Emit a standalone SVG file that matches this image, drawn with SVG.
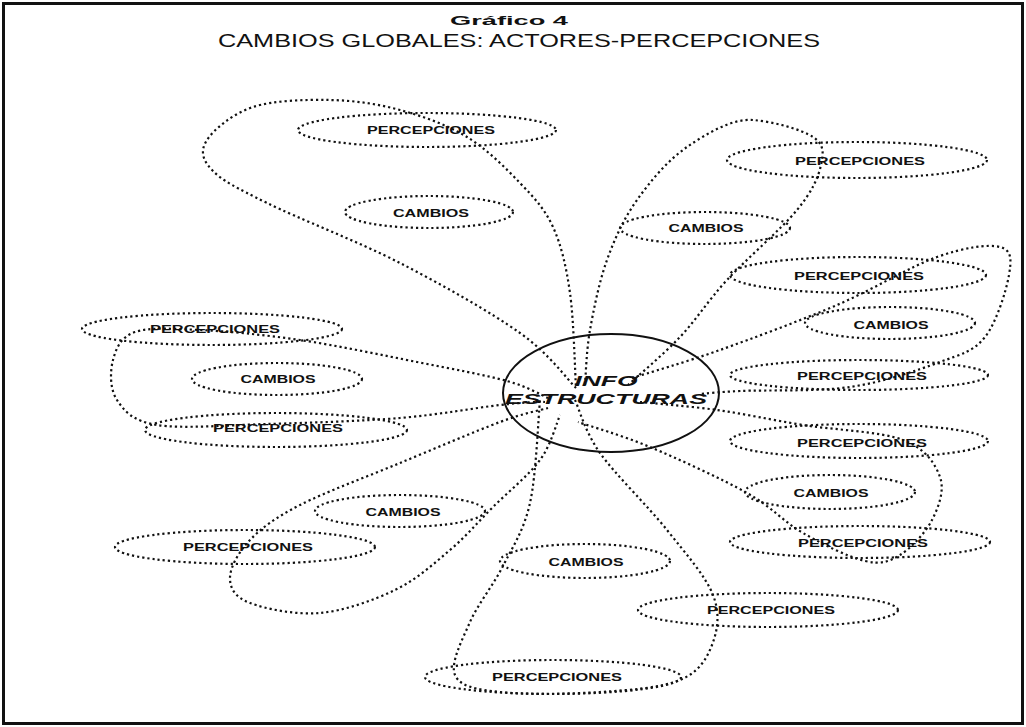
<svg xmlns="http://www.w3.org/2000/svg" width="1026" height="727" viewBox="0 0 1026 727">
<style>
.dot{fill:none;stroke:#111;stroke-width:2.2;stroke-dasharray:2.2 3}
.hub{fill:none;stroke:#111;stroke-width:2}
.lbl{font-family:"Liberation Sans",Arial,sans-serif;font-weight:bold;font-size:11px;fill:#111;text-anchor:middle}
.ttl{font-family:"Liberation Sans",Arial,sans-serif;fill:#111;text-anchor:middle}
.ctr{font-family:"Liberation Sans",Arial,sans-serif;font-weight:bold;font-style:italic;font-size:15px;fill:#111;text-anchor:middle}
</style>
<rect x="3.5" y="3.5" width="1019" height="720" fill="#fff" stroke="#111" stroke-width="3"/>
<g id="title">
<text class="ttl" x="509" y="25" font-size="13" font-weight="bold" textLength="118" lengthAdjust="spacingAndGlyphs">Gráfico 4</text>
<text class="ttl" x="519" y="47" font-size="19" textLength="602" lengthAdjust="spacingAndGlyphs">CAMBIOS GLOBALES: ACTORES-PERCEPCIONES</text>
</g>
<g id="connectors">
<path class="dot" d="M576,388 C566.7,378.8 549.3,353.8 520,333 C490.7,312.2 442.2,284.7 400,263 C357.8,241.3 298.3,218.5 267,203 C235.7,187.5 222,180.5 212,170 C202,159.5 200.2,150.5 207,140 C213.8,129.5 232.5,113.7 253,107 C273.5,100.3 305.5,99.5 330,100 C354.5,100.5 377.2,103.8 400,110 C422.8,116.2 447,124.8 467,137 C487,149.2 505.7,168 520,183 C534.3,198 544.7,208.7 553,227 C561.3,245.3 566.2,266.2 570,293 C573.8,319.8 575,372.2 576,388"/>
<path class="dot" d="M585,385 C585.8,375.8 586.3,350.8 590,330 C593.7,309.2 599.2,281.7 607,260 C614.8,238.3 623.7,218.8 637,200 C650.3,181.2 667.7,160.3 687,147 C706.3,133.7 732,118.3 753,120 C774,121.7 801.7,129.5 813,137 C824.3,144.5 823.7,152.8 821,165 C818.3,177.2 812.7,190.8 797,210 C781.3,229.2 746.5,258.8 727,280 C707.5,301.2 696.5,319.5 680,337 C663.5,354.5 636.7,377 628,385"/>
<path class="dot" d="M632,378 C646.7,373.3 685.8,362.2 720,350 C754.2,337.8 800.8,320.5 837,305 C873.2,289.5 909.8,266.7 937,257 C964.2,247.3 988,244 1000,247 C1012,250 1011.5,260 1009,275 C1006.5,290 996.5,322.5 985,337 C973.5,351.5 962.5,353.7 940,362 C917.5,370.3 883.3,382.2 850,387 C816.7,391.8 765,389.8 740,391 C715,392.2 706.7,393.5 700,394"/>
<path class="dot" d="M640,402 C652.8,403.3 689.8,406.2 717,410 C744.2,413.8 772,420 803,425 C834,430 880.2,431.3 903,440 C925.8,448.7 935.2,463.7 940,477 C944.8,490.3 938.7,507 932,520 C925.3,533 911.2,548.2 900,555 C888.8,561.8 881.2,564.7 865,561 C848.8,557.3 822.7,544.3 803,533 C783.3,521.7 772.5,507.3 747,493 C721.5,478.7 678.2,458.8 650,447 C621.8,435.2 590,426.2 578,422"/>
<path class="dot" d="M575,400 C579.2,408.8 584.7,431.3 600,453 C615.3,474.7 648.2,506.3 667,530 C685.8,553.7 705.5,575.8 713,595 C720.5,614.2 717.5,630.8 712,645 C706.5,659.2 698.7,672.2 680,680 C661.3,687.8 630,690 600,692 C570,694 524.2,694.8 500,692 C475.8,689.2 460,686.7 455,675 C450,663.3 462,640.2 470,622 C478,603.8 493,585.8 503,566 C513,546.2 523.8,530.7 530,503 C536.2,475.3 538.3,417.2 540,400"/>
<path class="dot" d="M548,408 C540,410.3 524.7,412.8 500,422 C475.3,431.2 433.3,449.2 400,463 C366.7,476.8 325,492.2 300,505 C275,517.8 261.7,527.8 250,540 C238.3,552.2 230,567.5 230,578 C230,588.5 235,597.2 250,603 C265,608.8 295.8,615.2 320,613 C344.2,610.8 373.3,600.5 395,590 C416.7,579.5 433.7,563.8 450,550 C466.3,536.2 478,522 493,507 C508,492 528.8,475.3 540,460 C551.2,444.7 556.7,422.5 560,415"/>
<path class="dot" d="M548,398 C541.2,395.2 528.8,387 507,381 C485.2,375 451.5,368.8 417,362 C382.5,355.2 336.2,345.3 300,340 C263.8,334.7 227.5,331.3 200,330 C172.5,328.7 149.5,327 135,332 C120.5,337 116,348.7 113,360 C110,371.3 109.7,389.2 117,400 C124.3,410.8 132,421 157,425 C182,429 226.5,425.2 267,424 C307.5,422.8 361.2,421.2 400,418 C438.8,414.8 475.8,407.7 500,405 C524.2,402.3 537.5,401.5 545,402"/>
</g>
<g id="center">
<ellipse class="hub" cx="611" cy="393" rx="108" ry="59"/>
<text class="ctr" x="606" y="386" textLength="63" lengthAdjust="spacingAndGlyphs">INFO</text>
<text class="ctr" x="606" y="404" textLength="202" lengthAdjust="spacingAndGlyphs">ESTRUCTURAS</text>
</g>
<g id="p1"><ellipse class="dot" cx="427" cy="130" rx="129" ry="17"/><text class="lbl" x="431" y="134" textLength="128" lengthAdjust="spacingAndGlyphs">PERCEPCIONES</text></g>
<g id="c1"><ellipse class="dot" cx="429" cy="212" rx="84" ry="16"/><text class="lbl" x="431" y="217" textLength="76" lengthAdjust="spacingAndGlyphs">CAMBIOS</text></g>
<g id="p2"><ellipse class="dot" cx="857" cy="160" rx="130" ry="18"/><text class="lbl" x="860" y="165" textLength="130" lengthAdjust="spacingAndGlyphs">PERCEPCIONES</text></g>
<g id="c2"><ellipse class="dot" cx="705" cy="228" rx="85" ry="16"/><text class="lbl" x="706" y="232" textLength="75" lengthAdjust="spacingAndGlyphs">CAMBIOS</text></g>
<g id="p3"><ellipse class="dot" cx="858" cy="275" rx="128" ry="18"/><text class="lbl" x="859" y="280" textLength="130" lengthAdjust="spacingAndGlyphs">PERCEPCIONES</text></g>
<g id="c3"><ellipse class="dot" cx="890" cy="323" rx="85" ry="16"/><text class="lbl" x="891" y="329" textLength="75" lengthAdjust="spacingAndGlyphs">CAMBIOS</text></g>
<g id="p4"><ellipse class="dot" cx="859" cy="375" rx="129" ry="15"/><text class="lbl" x="862" y="380" textLength="130" lengthAdjust="spacingAndGlyphs">PERCEPCIONES</text></g>
<g id="p5"><ellipse class="dot" cx="859" cy="441" rx="129" ry="17"/><text class="lbl" x="862" y="447" textLength="130" lengthAdjust="spacingAndGlyphs">PERCEPCIONES</text></g>
<g id="c4"><ellipse class="dot" cx="830" cy="492" rx="85" ry="17"/><text class="lbl" x="831" y="497" textLength="75" lengthAdjust="spacingAndGlyphs">CAMBIOS</text></g>
<g id="p6"><ellipse class="dot" cx="860" cy="542" rx="130" ry="16"/><text class="lbl" x="863" y="547" textLength="130" lengthAdjust="spacingAndGlyphs">PERCEPCIONES</text></g>
<g id="p7"><ellipse class="dot" cx="768" cy="610" rx="130" ry="17"/><text class="lbl" x="771" y="614" textLength="128" lengthAdjust="spacingAndGlyphs">PERCEPCIONES</text></g>
<g id="c5"><ellipse class="dot" cx="585" cy="561" rx="85" ry="17"/><text class="lbl" x="586" y="566" textLength="75" lengthAdjust="spacingAndGlyphs">CAMBIOS</text></g>
<g id="p8"><ellipse class="dot" cx="553" cy="677" rx="128" ry="17"/><text class="lbl" x="557" y="681" textLength="130" lengthAdjust="spacingAndGlyphs">PERCEPCIONES</text></g>
<g id="p9"><ellipse class="dot" cx="212" cy="329" rx="130" ry="16"/><text class="lbl" x="215" y="333" textLength="130" lengthAdjust="spacingAndGlyphs">PERCEPCIONES</text></g>
<g id="c6"><ellipse class="dot" cx="277" cy="379" rx="85" ry="16"/><text class="lbl" x="278" y="383" textLength="75" lengthAdjust="spacingAndGlyphs">CAMBIOS</text></g>
<g id="p10"><ellipse class="dot" cx="276" cy="430" rx="131" ry="17"/><text class="lbl" x="278" y="432" textLength="130" lengthAdjust="spacingAndGlyphs">PERCEPCIONES</text></g>
<g id="c7"><ellipse class="dot" cx="400" cy="511" rx="85" ry="16"/><text class="lbl" x="403" y="516" textLength="75" lengthAdjust="spacingAndGlyphs">CAMBIOS</text></g>
<g id="p11"><ellipse class="dot" cx="245" cy="547" rx="130" ry="17"/><text class="lbl" x="248" y="551" textLength="130" lengthAdjust="spacingAndGlyphs">PERCEPCIONES</text></g>
</svg>
